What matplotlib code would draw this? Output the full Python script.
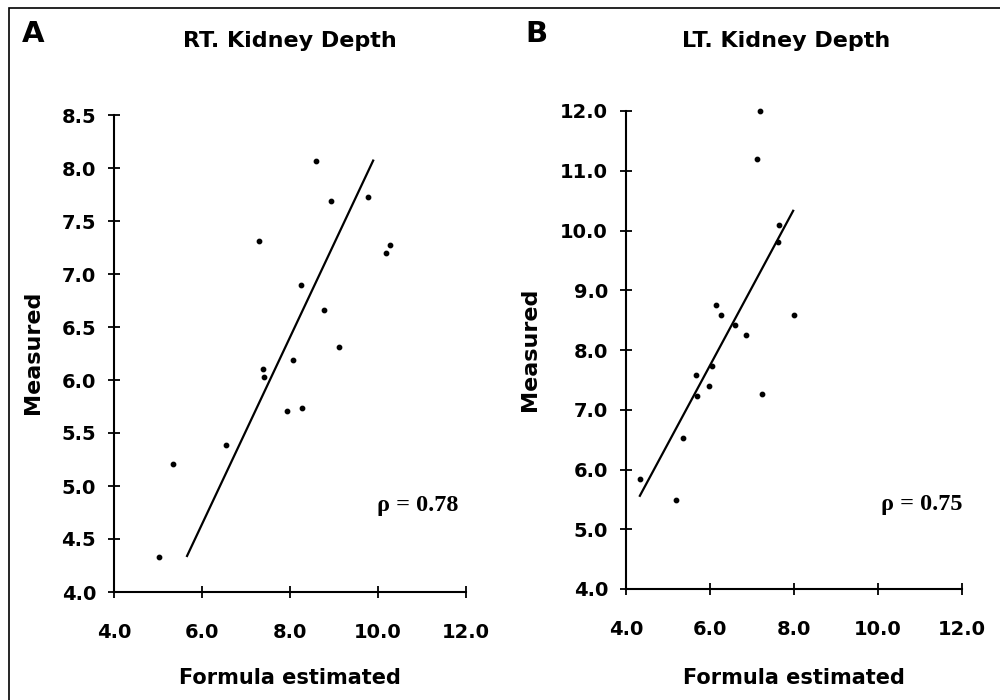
import matplotlib
matplotlib.use("Agg")
import matplotlib.pyplot as plt
from matplotlib.patches import Rectangle

# panel A: right kidney depth (cm)
rt_estimated = [8.59, 8.93, 9.77, 7.30, 10.27, 10.18, 8.25, 8.77, 9.11, 8.07,
                7.39, 7.41, 7.93, 8.27, 6.55, 5.34, 5.02]
rt_measured = [8.07, 7.69, 7.73, 7.31, 7.27, 7.20, 6.90, 6.66, 6.31, 6.19,
               6.10, 6.03, 5.71, 5.74, 5.39, 5.21, 4.33]
rt_fit_x = [5.66, 9.89]
rt_fit_y = [4.34, 8.07]
rt_rho = "ρ = 0.78"

# panel B: left kidney depth (cm)
lt_estimated = [7.19, 7.12, 7.64, 7.62, 6.14, 6.26, 8.00, 6.60, 6.86, 6.05,
                5.67, 5.98, 5.69, 7.24, 5.36, 4.33, 5.19]
lt_measured = [12.00, 11.20, 10.09, 9.81, 8.75, 8.59, 8.59, 8.42, 8.25, 7.73,
               7.58, 7.40, 7.23, 7.26, 6.53, 5.84, 5.49]
lt_fit_x = [4.33, 7.98]
lt_fit_y = [5.56, 10.33]
lt_rho = "ρ = 0.75"

x_ticks = [4.0, 6.0, 8.0, 10.0, 12.0]
rt_y_ticks = [4.0, 4.5, 5.0, 5.5, 6.0, 6.5, 7.0, 7.5, 8.0, 8.5]
lt_y_ticks = [4.0, 5.0, 6.0, 7.0, 8.0, 9.0, 10.0, 11.0, 12.0]

plt.rcParams['font.family'] = ['DejaVu Sans']
plt.rcParams['font.weight'] = 'bold'

fig = plt.figure(figsize=(10, 7), dpi=100)
W, H = 1000.0, 700.0


def px(x0, y0, x1, y1):
    # pixel box (from top-left) -> figure fraction rect
    return [x0 / W, 1 - y1 / H, (x1 - x0) / W, (y1 - y0) / H]


def panel(ax, xs, ys, fx, fy, yticks, rho, rho_pos):
    ax.scatter(xs, ys, s=10, color="black", zorder=3, clip_on=False)
    ax.plot(fx, fy, color="black", lw=1.6)
    ax.set_xlim(4, 12)
    ax.set_ylim(yticks[0], yticks[-1])
    ax.set_xticks(x_ticks)
    ax.set_yticks(yticks)
    ax.set_xticklabels([f"{t:.1f}" for t in x_ticks])
    ax.set_yticklabels([f"{t:.1f}" for t in yticks])
    for s in ["top", "right"]:
        ax.spines[s].set_visible(False)
    for s in ["left", "bottom"]:
        ax.spines[s].set_linewidth(1.5)
    ax.tick_params(axis="both", direction="inout", length=8, width=1.3,
                   labelsize=14)
    ax.tick_params(axis="x", pad=18)
    ax.tick_params(axis="y", pad=9)
    ax.text(rho_pos[0], rho_pos[1], rho, transform=ax.transAxes,
            ha="center", va="center", fontsize=17.5, fontweight="bold",
            family=["Liberation Serif", "DejaVu Serif"])


ax1 = fig.add_axes(px(114, 115, 466, 592))
panel(ax1, rt_estimated, rt_measured, rt_fit_x, rt_fit_y, rt_y_ticks,
      rt_rho, (0.862, 0.182))

ax2 = fig.add_axes(px(626, 111, 962, 589))
panel(ax2, lt_estimated, lt_measured, lt_fit_x, lt_fit_y, lt_y_ticks,
      lt_rho, (0.880, 0.176))

# titles, panel letters, axis labels
fig.text(290 / W, 1 - 47 / H, "RT. Kidney Depth", ha="center", va="baseline",
         fontsize=16, fontweight="bold")
fig.text(786 / W, 1 - 47 / H, "LT. Kidney Depth", ha="center", va="baseline",
         fontsize=16, fontweight="bold")
fig.text(22 / W, 1 - 42 / H, "A", ha="left", va="baseline", fontsize=21,
         fontweight="bold")
fig.text(525 / W, 1 - 42 / H, "B", ha="left", va="baseline", fontsize=21,
         fontweight="bold")
fig.text(290 / W, 1 - 684 / H, "Formula estimated", ha="center",
         va="baseline", fontsize=15, fontweight="bold")
fig.text(794 / W, 1 - 684 / H, "Formula estimated", ha="center",
         va="baseline", fontsize=15, fontweight="bold")
fig.text(33 / W, 1 - 352 / H, "Measured", ha="center", va="center",
         rotation=90, fontsize=16, fontweight="bold")
fig.text(530 / W, 1 - 349 / H, "Measured", ha="center", va="center",
         rotation=90, fontsize=16, fontweight="bold")

# outer frame
fig.add_artist(Rectangle((9 / W, -0.01), 0.995, 1.01 - 8 / H,
                         transform=fig.transFigure, fill=False,
                         edgecolor="black", lw=1.2))

fig.savefig("out.png", dpi=100)
